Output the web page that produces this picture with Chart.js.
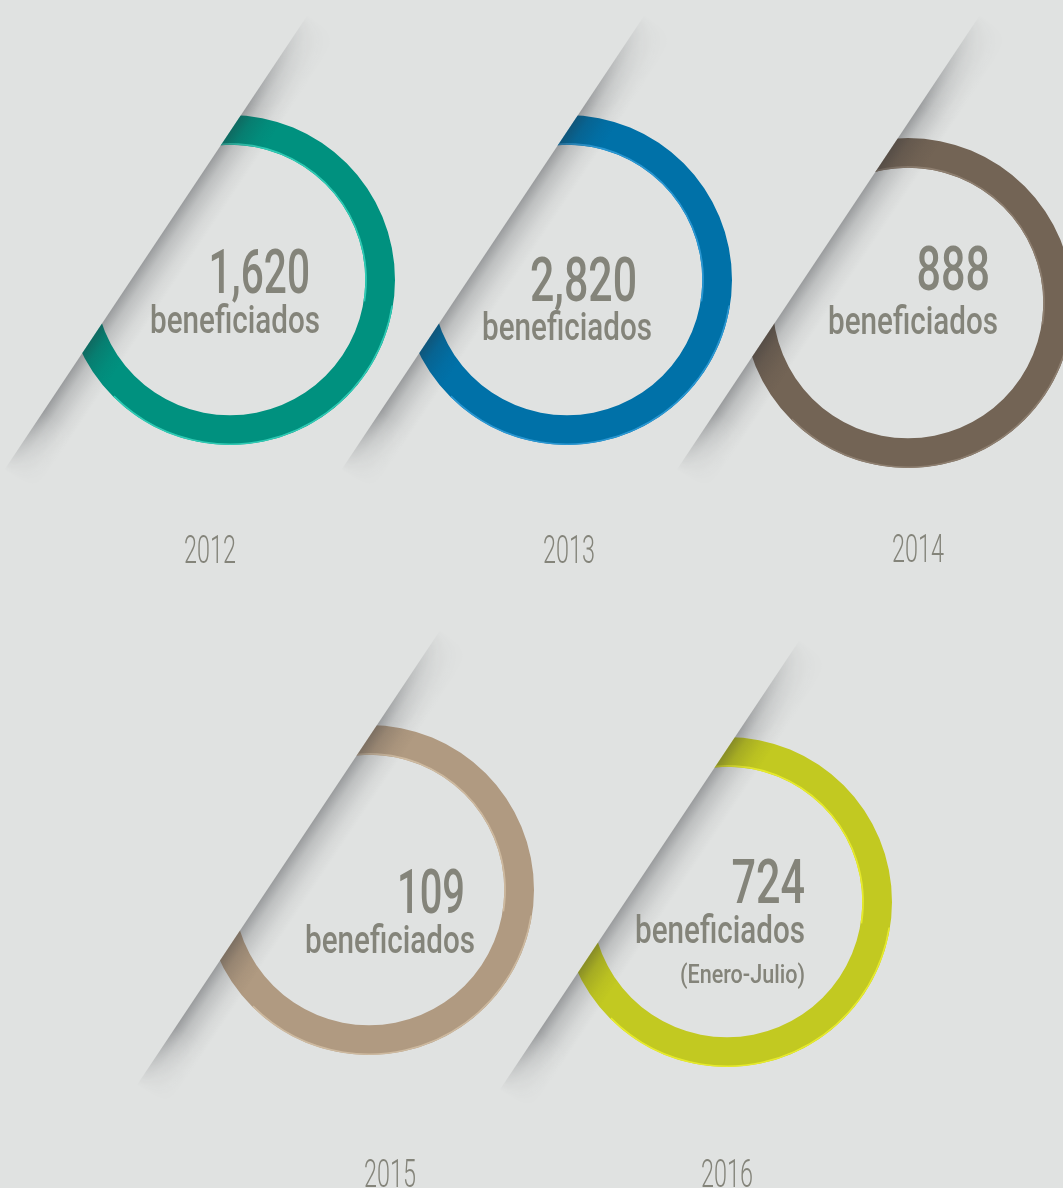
<!DOCTYPE html>
<html>
<head>
<meta charset="utf-8">
<script src="https://cdn.jsdelivr.net/npm/chart.js@4.4.1/dist/chart.umd.min.js"></script>
<style>
    html, body {
        margin: 0;
        padding: 0;
        width: 1063px;
        height: 1188px;
        overflow: hidden;
        background: #e0e2e1;
    }
    .ring {
        position: absolute;
        width: 430px;
        height: 620px;
    }
</style>
</head>
<body>
<script>
// Data read from the infographic
const years = ['2012', '2013', '2014', '2015', '2016'];
const beneficiaries = [1620, 2820, 888, 109, 724];
const unitLabel = 'beneficiados';
const notes = ['', '', '', '', '(Enero-Julio)'];

// Styles
const ringColors = ['#00917f', '#0071a8', '#736455', '#b09a81', '#c2c921'];
const ringHighlights = ['#2fcab4', '#2a97d2', '#8d7e6f', '#cdb99f', '#e6ea2c'];
const textColor = '#84847a';

// Layout: ring centers on the page, fold line offset and extent, text anchors
const centers = [[230, 280], [567, 280], [908, 303], [369, 890], [727, 902]];
const foldOffset = [-99, -99, -120, -102, -102];
const foldTop = [-265, -265, -288, -260, -262];
const foldBottom = [190, 190, 167, 195, 188];
const numberAnchor = [[80, 13], [70, 21], [82, -13], [96, 23], [78, 1]];
const wordAnchor = [[90, 53], [85, 60], [90, 31], [106, 63], [78, 41]];
const noteAnchor = [[0, 0], [0, 0], [0, 0], [0, 0], [78, 81]];
const yearAnchor = [[-20, 283], [2, 283], [10, 259], [21, 297], [0, 285]];

const CANVAS_W = 430;
const CANVAS_H = 620;
const LOCAL_CX = 240;
const LOCAL_CY = 300;
const RADIUS = 165;

// direction along the fold (top -> bottom) and its normal pointing into the visible side
const ux = -1 / Math.sqrt(1 + 1.5 * 1.5);
const uy = 1.5 / Math.sqrt(1 + 1.5 * 1.5);
const nx = uy;
const ny = -ux;

function drawCondensed(ctx, text, xRight, baseline, font, width) {
    ctx.save();
    ctx.font = font;
    ctx.fillStyle = textColor;
    ctx.textAlign = 'right';
    ctx.textBaseline = 'alphabetic';
    const sx = width / ctx.measureText(text).width;
    ctx.translate(xRight, baseline);
    ctx.scale(sx, 1);
    ctx.fillText(text, 0, 0);
    ctx.restore();
}

function drawCentered(ctx, text, x, baseline, font, sx) {
    ctx.save();
    ctx.font = font;
    ctx.fillStyle = textColor;
    ctx.textAlign = 'center';
    ctx.translate(x, baseline);
    ctx.scale(sx, 1);
    ctx.fillText(text, 0, 0);
    ctx.restore();
}

// condensed width per glyph class, so the labels look like the narrow face of the original
function numberWidth(text) {
    let w = 0;
    for (const ch of text) {
        w += ch === ',' ? 9 : ch === '1' ? 19 : 24.5;
    }
    return w;
}

// Plugin: hides the ring behind the paper fold, casts the fold shadow, writes the labels
const foldPlugin = {
    id: 'fold',
    beforeDatasetsDraw(chart) {
        const i = chart.options.plugins.fold.index;
        const ctx = chart.ctx;
        const arc = chart.getDatasetMeta(0).data[0];
        const px = arc.x + foldOffset[i];
        const py = arc.y;
        // visible half plane: right of the fold line
        ctx.save();
        ctx.beginPath();
        ctx.moveTo(px - ux * 1000, py - uy * 1000);
        ctx.lineTo(px + ux * 1000, py + uy * 1000);
        ctx.lineTo(px + ux * 1000 + nx * 1000, py + uy * 1000 + ny * 1000);
        ctx.lineTo(px - ux * 1000 + nx * 1000, py - uy * 1000 + ny * 1000);
        ctx.closePath();
        ctx.clip();
    },
    afterDatasetsDraw(chart) {
        const i = chart.options.plugins.fold.index;
        const ctx = chart.ctx;
        const arc = chart.getDatasetMeta(0).data[0];

        // bevel highlights on the ring edges
        ctx.lineWidth = 1.6;
        ctx.strokeStyle = ringHighlights[i];
        ctx.beginPath();
        ctx.arc(arc.x, arc.y, arc.innerRadius + 0.8, -Math.PI * 0.6, Math.PI * 0.05);
        ctx.stroke();
        ctx.beginPath();
        ctx.arc(arc.x, arc.y, arc.outerRadius - 0.8, Math.PI * 0.05, Math.PI * 0.75);
        ctx.stroke();
        ctx.restore();

        // shadow cast by the fold, drawn offscreen then faded at both ends
        const px = arc.x + foldOffset[i];
        const py = arc.y;
        const t0 = foldTop[i] / uy;
        const t1 = foldBottom[i] / uy;
        const depth = 38;
        const off = document.createElement('canvas');
        off.width = chart.width;
        off.height = chart.height;
        const o = off.getContext('2d');
        const ax = px + ux * t0, ay = py + uy * t0;
        const bx = px + ux * t1, by = py + uy * t1;
        const grad = o.createLinearGradient(px, py, px + nx * depth, py + ny * depth);
        grad.addColorStop(0, 'rgba(40,42,48,0.38)');
        grad.addColorStop(0.3, 'rgba(40,42,48,0.18)');
        grad.addColorStop(0.7, 'rgba(40,42,48,0.05)');
        grad.addColorStop(1, 'rgba(40,42,48,0)');
        o.fillStyle = grad;
        o.beginPath();
        o.moveTo(ax, ay);
        o.lineTo(bx, by);
        o.lineTo(bx + nx * depth, by + ny * depth);
        o.lineTo(ax + nx * depth, ay + ny * depth);
        o.closePath();
        o.fill();
        o.globalCompositeOperation = 'destination-in';
        const len = t1 - t0;
        const fade = o.createLinearGradient(ax, ay, bx, by);
        fade.addColorStop(0, 'rgba(0,0,0,0)');
        fade.addColorStop(110 / len, 'rgba(0,0,0,1)');
        fade.addColorStop(1 - 70 / len, 'rgba(0,0,0,1)');
        fade.addColorStop(1, 'rgba(0,0,0,0)');
        o.fillStyle = fade;
        o.fillRect(0, 0, off.width, off.height);
        ctx.drawImage(off, 0, 0, chart.width, chart.height);
    },
    afterDraw(chart) {
        const i = chart.options.plugins.fold.index;
        const ctx = chart.ctx;
        const arc = chart.getDatasetMeta(0).data[0];
        const cx = arc.x, cy = arc.y;
        const numText = beneficiaries[i].toLocaleString('en-US');

        drawCondensed(ctx, numText,
            cx + numberAnchor[i][0], cy + numberAnchor[i][1], '500 62px Roboto', numberWidth(numText));
        drawCondensed(ctx, unitLabel,
            cx + wordAnchor[i][0], cy + wordAnchor[i][1], '500 39px Roboto', 170);
        if (notes[i]) {
            drawCondensed(ctx, notes[i],
                cx + noteAnchor[i][0], cy + noteAnchor[i][1], '500 26px Roboto', 125);
        }
        drawCentered(ctx, years[i], cx + yearAnchor[i][0], cy + yearAnchor[i][1], '300 39px Roboto', 0.6);
    }
};

years.forEach((year, i) => {
    const box = document.createElement('div');
    box.className = 'ring';
    box.style.left = (centers[i][0] - LOCAL_CX) + 'px';
    box.style.top = (centers[i][1] - LOCAL_CY) + 'px';
    const canvas = document.createElement('canvas');
    canvas.width = CANVAS_W;
    canvas.height = CANVAS_H;
    box.appendChild(canvas);
    document.body.appendChild(box);

    new Chart(canvas.getContext('2d'), {
        type: 'doughnut',
        data: {
            labels: [year],
            datasets: [{
                data: [beneficiaries[i]],
                backgroundColor: [ringColors[i]],
                borderWidth: 0
            }]
        },
        options: {
            responsive: false,
            animation: false,
            cutout: '82%',
            layout: {
                padding: {
                    left: LOCAL_CX - RADIUS,
                    right: CANVAS_W - LOCAL_CX - RADIUS,
                    top: LOCAL_CY - RADIUS,
                    bottom: CANVAS_H - LOCAL_CY - RADIUS
                }
            },
            plugins: {
                legend: { display: false },
                tooltip: { enabled: false },
                fold: { index: i }
            }
        },
        plugins: [foldPlugin]
    });
});
</script>
</body>
</html>
